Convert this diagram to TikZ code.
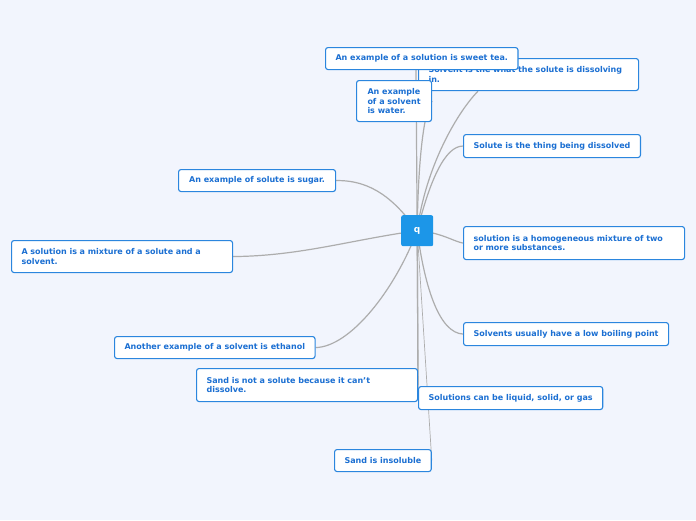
\documentclass[tikz,border=0pt]{standalone}
\usepackage{fontspec}
\setmainfont{DejaVu Sans}
\usepackage{tikz}
\usetikzlibrary{calc}

\definecolor{pagebg}{HTML}{F2F5FD}
\definecolor{topicblue}{HTML}{2B86DE}
\definecolor{textblue}{HTML}{1B6FD2}
\definecolor{rootblue}{HTML}{1C96E8}
\definecolor{branchgray}{HTML}{ADADAD}

\pgfdeclarelayer{background}
\pgfsetlayers{background,main}

\tikzset{
  topic/.style 2 args={draw=topicblue, line width=1.1pt, fill=white, rounded corners=2.5pt,
    anchor=north west, align=left, inner xsep=10pt, inner ysep=0pt,
    minimum width=#1, minimum height=#2, text=textblue,
    font=\fontsize{8}{9.8}\selectfont\bfseries},
  branch/.style={draw=branchgray, line width=1.2pt},
}

\begin{document}
\begin{tikzpicture}[x=1pt,y=-1pt]
  \begin{pgfonlayer}{background}
    \fill[pagebg] (0,0) rectangle (696,520);
  \end{pgfonlayer}
  \useasboundingbox (0,0) rectangle (696,520);

  % central topic
  \node[fill=rootblue, rounded corners=2pt, anchor=north west, minimum width=32pt,
        minimum height=31pt, inner sep=0pt, text=white,
        font=\fontsize{9}{10}\selectfont\bfseries] (q) at (401,215) {q};

  % subtopics
  \node[topic={220pt}{32pt}, text width=200pt] (solvent) at (418,58) {Solvent is the what the solute is dissolving\\in.};
  \node[topic={192pt}{22pt}] (tea) at (325,47) {An example of a solution is sweet tea.};
  \node[topic={75pt}{41pt}] (water) at (356,80) {An example\\of a solvent\\is water.};
  \node[topic={175pt}{23pt}] (dissolved) at (463,134) {Solute is the thing being dissolved};
  \node[topic={157pt}{22pt}] (sugar) at (178,169) {An example of solute is sugar.};
  \node[topic={221pt}{33pt}, text width=201pt] (homog) at (463,226) {solution is a homogeneous mixture of two\\or more substances.};
  \node[topic={221pt}{32pt}, text width=201pt] (mixture) at (11,240) {A solution is a mixture of a solute and a\\solvent.};
  \node[topic={204pt}{23pt}] (boiling) at (463,322) {Solvents usually have a low boiling point};
  \node[topic={200pt}{22pt}] (ethanol) at (114,336) {Another example of a solvent is ethanol};
  \node[topic={221pt}{33pt}, text width=201pt] (sandnot) at (196,368) {Sand is not a solute because it can't\\dissolve.};
  \node[topic={182pt}{23pt}] (states) at (418,386) {Solutions can be liquid, solid, or gas};
  \node[topic={96pt}{22pt}] (insoluble) at (334,449) {Sand is insoluble};

  % branches
  \begin{pgfonlayer}{background}
    \draw[branch] (q.center) -- ($(tea.south west)+(91,0)$);
    \draw[branch] (q.center) .. controls (425,170) and (455,115) .. ($(solvent.south west)+(60,0)$);
    \draw[branch] (q.center) .. controls (418,160) and (424,110) .. (water.east);
    \draw[branch] (q.center) .. controls (430,180) and (445,146) .. (dissolved.west);
    \draw[branch] (q.center) .. controls (395,200) and (372,180) .. (sugar.east);
    \draw[branch] (q.center) .. controls (440,232) and (455,242) .. (homog.west);
    \draw[branch] (q.center) .. controls (350,240) and (300,256) .. (mixture.east);
    \draw[branch] (q.center) .. controls (425,290) and (440,333) .. (boiling.west);
    \draw[branch] (q.center) .. controls (395,290) and (350,347) .. (ethanol.east);
    \draw[branch] (q.center) -- (sandnot.east);
    \draw[branch] (q.center) -- (states.west);
    \draw[branch, line width=0.7pt] (q.center) -- (insoluble.east);
  \end{pgfonlayer}
\end{tikzpicture}
\end{document}
